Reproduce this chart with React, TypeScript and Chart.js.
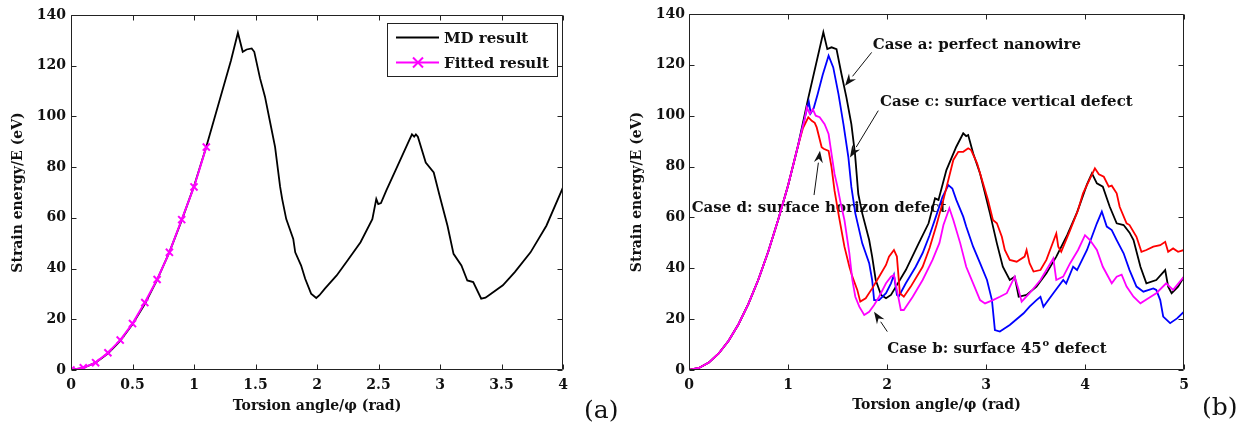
import React, { useEffect, useRef } from "react";
import { Chart, registerables } from "chart.js";

Chart.register(...registerables);

type Pt = [number, number];

const SERIF = '"DejaVu Serif", "Liberation Serif", serif';
const INK = "#111111";

// ---------------- Panel (a) data ----------------
const mdResult: Pt[] = [
  [0, 0], [0.1, 0.8], [0.2, 2.9], [0.3, 6.5], [0.4, 11.5], [0.5, 18], [0.6, 26], [0.7, 35.5],
  [0.8, 46.5], [0.9, 59], [1.0, 72.5], [1.1, 88], [1.2, 105], [1.3, 122], [1.357, 133],
  [1.396, 125.5], [1.428, 126.4], [1.469, 126.8], [1.49, 125.5], [1.537, 115], [1.577, 107.8],
  [1.618, 97.9], [1.659, 88], [1.7, 72.3], [1.717, 67.4], [1.75, 59.5], [1.807, 51.7],
  [1.823, 46.4], [1.871, 41.2], [1.904, 36], [1.952, 30.1], [1.994, 28.4], [2.02, 29.5],
  [2.064, 32.1], [2.16, 37.3], [2.257, 43.8], [2.354, 50.4], [2.45, 59.5], [2.482, 67.4],
  [2.498, 65.4], [2.52, 65.8], [2.563, 70.7], [2.643, 79.2], [2.74, 89.6], [2.772, 92.9],
  [2.79, 92], [2.804, 92.9], [2.82, 92], [2.884, 81.8], [2.949, 77.9], [2.997, 68.7],
  [3.061, 56.9], [3.11, 45.8], [3.174, 41.2], [3.222, 35.3], [3.27, 34.7], [3.335, 28.1],
  [3.37, 28.5], [3.415, 30.1], [3.511, 33.4], [3.608, 38.6], [3.736, 46.4], [3.865, 56.9], [4.0, 72],
];

const fittedResult: Pt[] = [
  [0, 0], [0.1, 0.9], [0.2, 2.9], [0.3, 6.8], [0.4, 11.8], [0.5, 18.3], [0.6, 26.6],
  [0.7, 35.7], [0.8, 46.4], [0.9, 59.3], [1.0, 72.2], [1.1, 87.9],
];

const legendLabelsA = ["MD result", "Fitted result"];
const xTickValuesA = [0, 0.5, 1, 1.5, 2, 2.5, 3, 3.5, 4];
const yTickValues = [0, 20, 40, 60, 80, 100, 120, 140];

// ---------------- Panel (b) data ----------------
const commonRise: Pt[] = [
  [0, 0], [0.1, 0.8], [0.2, 2.9], [0.3, 6.5], [0.4, 11.5], [0.5, 18], [0.6, 26], [0.7, 35.5],
  [0.8, 46.5], [0.9, 59], [1.0, 72.5], [1.1, 88],
];

const caseA: Pt[] = [
  [1.205, 107], [1.357, 132.8], [1.397, 126.2], [1.44, 126.9], [1.49, 126.2], [1.54, 116.4],
  [1.59, 107.2], [1.64, 96.7], [1.677, 84.9], [1.71, 69.2], [1.75, 61.6], [1.82, 51.1],
  [1.85, 44.6], [1.886, 35.4], [1.94, 29.5], [1.99, 28.2], [2.04, 29.5], [2.09, 32.8],
  [2.19, 39.3], [2.32, 49.8], [2.42, 57.7], [2.485, 67.5], [2.52, 66.9], [2.6, 78.6],
  [2.7, 87.8], [2.77, 93.1], [2.8, 92], [2.82, 92.4], [2.87, 85.2], [2.94, 77.3], [2.99, 69.5],
  [3.04, 61.6], [3.11, 49.8], [3.17, 40.6], [3.24, 35.4], [3.29, 36.7], [3.33, 28.8],
  [3.41, 29.5], [3.51, 32.8], [3.61, 38], [3.71, 44.6], [3.82, 53], [3.92, 62], [4.02, 73],
  [4.07, 77.3], [4.12, 73.4], [4.18, 72.1], [4.25, 64.2], [4.32, 57.7], [4.39, 57], [4.45, 54],
  [4.49, 51.1], [4.56, 40.6], [4.62, 34.1], [4.72, 35.4], [4.81, 39.3], [4.84, 32.8],
  [4.875, 30.2], [4.94, 32.8], [5.0, 36.7],
];

const caseB: Pt[] = [
  [1.17, 99], [1.19, 103.3], [1.22, 100.7], [1.25, 102.6], [1.28, 100], [1.32, 99.4],
  [1.37, 96.7], [1.41, 92.8], [1.44, 84.9], [1.47, 77.1], [1.5, 72], [1.53, 66], [1.57, 59],
  [1.62, 45.9], [1.65, 35.4], [1.68, 28.8], [1.72, 24.9], [1.77, 21.6], [1.82, 22.9],
  [1.87, 25.6], [1.92, 28.8], [1.99, 34.1], [2.04, 36.7], [2.07, 37.4], [2.1, 31.5],
  [2.14, 23.6], [2.17, 23.6], [2.26, 28.8], [2.36, 35.4], [2.46, 43.3], [2.53, 50], [2.57, 57],
  [2.63, 63.6], [2.67, 59], [2.74, 49.8], [2.8, 40.6], [2.87, 34.1], [2.94, 27.5], [2.99, 26.2],
  [3.07, 27.5], [3.14, 28.8], [3.21, 30.2], [3.29, 36.7], [3.33, 31.5], [3.36, 26.9],
  [3.44, 30.2], [3.55, 35.4], [3.63, 40.6], [3.68, 43.9], [3.71, 35.4], [3.78, 36.7],
  [3.85, 42], [3.93, 47.2], [4.0, 53], [4.05, 51.1], [4.12, 47.2], [4.18, 40.6], [4.27, 34.1],
  [4.32, 36.7], [4.37, 37.5], [4.42, 32.8], [4.49, 28.8], [4.56, 26.2], [4.64, 28.2],
  [4.72, 30.2], [4.82, 34.1], [4.89, 31.5], [5.0, 36.7],
];

const caseC: Pt[] = [
  [1.2, 104], [1.21, 105.5], [1.23, 101], [1.26, 103], [1.3, 108.5], [1.35, 116], [1.41, 123.6],
  [1.457, 119], [1.51, 108.5], [1.56, 96.7], [1.61, 83.6], [1.64, 72], [1.68, 61.6],
  [1.75, 49.8], [1.82, 42], [1.85, 35.4], [1.87, 27.5], [1.92, 27.5], [1.99, 30.2],
  [2.04, 34.1], [2.07, 37.4], [2.1, 29.5], [2.12, 29], [2.19, 34.1], [2.29, 40.6], [2.36, 46],
  [2.43, 53], [2.5, 61], [2.56, 68], [2.62, 72.7], [2.66, 71.4], [2.7, 66.9], [2.77, 60.3],
  [2.8, 56.4], [2.87, 48.5], [2.94, 42], [3.01, 35.4], [3.06, 27.5], [3.09, 15.7], [3.14, 15.1],
  [3.24, 17.7], [3.38, 22.3], [3.44, 24.9], [3.51, 27.5], [3.55, 28.8], [3.58, 24.9],
  [3.68, 30.2], [3.78, 35.4], [3.81, 34], [3.88, 40.6], [3.92, 39.3], [4.02, 47.2],
  [4.12, 57.7], [4.17, 62.3], [4.22, 56.4], [4.27, 55], [4.32, 51.1], [4.39, 45.9],
  [4.45, 39.3], [4.52, 32.8], [4.59, 30.8], [4.69, 32.1], [4.72, 31.5], [4.76, 27.5],
  [4.79, 21], [4.86, 18.4], [4.93, 20.3], [5.0, 22.9],
];

const caseD: Pt[] = [
  [1.15, 95], [1.205, 99.4], [1.24, 98], [1.27, 97.2], [1.29, 95.4], [1.34, 87.6], [1.36, 87],
  [1.41, 86.2], [1.44, 79.7], [1.47, 70.5], [1.515, 60.3], [1.57, 48.5], [1.62, 40.6],
  [1.65, 36.7], [1.7, 31.5], [1.73, 26.9], [1.785, 28.2], [1.85, 32.1], [1.92, 36.7],
  [1.99, 41.3], [2.02, 44.6], [2.07, 47.2], [2.1, 44.6], [2.13, 30.2], [2.17, 28.8],
  [2.24, 32.8], [2.36, 40.6], [2.43, 48], [2.5, 57], [2.57, 67], [2.67, 82.6], [2.72, 85.8],
  [2.77, 85.8], [2.82, 87.2], [2.85, 86.5], [2.91, 81.3], [2.97, 73.4], [3.02, 66.9], [3.07, 59],
  [3.11, 57.7], [3.16, 52.4], [3.19, 47.2], [3.24, 43.3], [3.31, 42.6], [3.39, 44.6],
  [3.41, 47.2], [3.44, 42], [3.48, 38.7], [3.55, 39.3], [3.61, 43.3], [3.71, 53.7],
  [3.73, 48.5], [3.76, 46.5], [3.85, 55], [3.93, 62.9], [3.98, 69.5], [4.1, 79.3], [4.14, 77],
  [4.19, 76], [4.24, 72.1], [4.27, 72.5], [4.32, 69.5], [4.35, 64.2], [4.42, 57.7], [4.45, 57],
  [4.52, 52.4], [4.57, 46.5], [4.62, 47.2], [4.69, 48.5], [4.76, 49.1], [4.81, 50.4],
  [4.84, 46.5], [4.89, 47.8], [4.94, 46.5], [5.0, 47.2],
];

const xTickValuesB = [0, 1, 2, 3, 4, 5];

// annotation anchors in data units: text baseline start, arrow tail, arrow tip
const caseLabels = [
  "Case a: perfect nanowire",
  "Case c: surface vertical defect",
  "Case d: surface horizon defect",
  "Case b: surface 45",
];
const labelAnchors: Pt[] = [[1.857, 126.2], [1.929, 103.9], [0.027, 62.2], [2.003, 6.6]];
const arrowTails: Pt[] = [[1.845, 124.9], [1.912, 102], [1.263, 68.8], [2.003, 15.1]];
const arrowTips: Pt[] = [[1.576, 111.8], [1.626, 83.6], [1.323, 86.2], [1.869, 22.9]];

// ---------------- helpers ----------------
const toXY = (pts: Pt[]) => pts.map(([x, y]) => ({ x, y }));
const tickFont = { family: SERIF, size: 14, weight: "bold" as const };
const titleFont = { family: SERIF, size: 14, weight: "bold" as const };

const framePlugin = {
  id: "frame",
  afterDatasetsDraw(chart: any) {
    const { ctx, chartArea: a, scales } = chart;
    const x = scales.x;
    const y = scales.y;
    const L = Math.round(a.left) + 0.5;
    const R = Math.round(a.right) - 0.5;
    const T = Math.round(a.top) + 0.5;
    const B = Math.round(a.bottom) - 0.5;
    ctx.save();
    ctx.strokeStyle = "#222222";
    ctx.lineWidth = 1;
    ctx.beginPath();
    for (const t of x.ticks) {
      const px = Math.round(x.getPixelForValue(t.value)) + 0.5;
      ctx.moveTo(px, B);
      ctx.lineTo(px, B - 5);
      ctx.moveTo(px, T);
      ctx.lineTo(px, T + 5);
    }
    for (const t of y.ticks) {
      const py = Math.round(y.getPixelForValue(t.value)) + 0.5;
      ctx.moveTo(L, py);
      ctx.lineTo(L + 5, py);
      ctx.moveTo(R, py);
      ctx.lineTo(R - 5, py);
    }
    ctx.rect(L, T, R - L, B - T);
    ctx.stroke();
    ctx.restore();
  },
};

const makePanelLabel = (text: string, px: number, baseline: number) => ({
  id: "panelLabel",
  afterDraw(chart: any) {
    const { ctx } = chart;
    ctx.save();
    ctx.fillStyle = INK;
    ctx.font = `25px ${SERIF}`;
    ctx.textAlign = "left";
    ctx.textBaseline = "alphabetic";
    ctx.fillText(text, px, baseline);
    ctx.restore();
  },
});

const legendPlugin = {
  id: "boxLegend",
  afterDatasetsDraw(chart: any) {
    const { ctx } = chart;
    const ds = chart.data.datasets;
    // order in legend: MD result, Fitted result
    const entries = [ds[1], ds[0]];
    ctx.save();
    ctx.fillStyle = "#ffffff";
    ctx.fillRect(387, 23, 170, 53);
    ctx.strokeStyle = "#222222";
    ctx.lineWidth = 1;
    ctx.strokeRect(387.5, 23.5, 170, 53);
    ctx.font = `bold 15px ${SERIF}`;
    ctx.textAlign = "left";
    ctx.textBaseline = "alphabetic";
    entries.forEach((d: any, i: number) => {
      const cy = 37.5 + i * 25;
      ctx.strokeStyle = d.borderColor;
      ctx.lineWidth = 2;
      ctx.beginPath();
      ctx.moveTo(396, cy);
      ctx.lineTo(439, cy);
      ctx.stroke();
      if (d.pointRadius > 0) {
        const r = 5;
        ctx.beginPath();
        ctx.moveTo(418 - r, cy - r);
        ctx.lineTo(418 + r, cy + r);
        ctx.moveTo(418 - r, cy + r);
        ctx.lineTo(418 + r, cy - r);
        ctx.stroke();
      }
      ctx.fillStyle = INK;
      ctx.fillText(legendLabelsA[i], 444, cy + 5.5);
    });
    ctx.restore();
  },
};

const annotationPlugin = {
  id: "caseNotes",
  beforeDatasetsDraw(chart: any) {
    const { ctx, scales } = chart;
    ctx.save();
    ctx.fillStyle = INK;
    ctx.font = `bold 15px ${SERIF}`;
    ctx.textAlign = "left";
    ctx.textBaseline = "alphabetic";
    caseLabels.forEach((t, i) => {
      const px = scales.x.getPixelForValue(labelAnchors[i][0]);
      const py = scales.y.getPixelForValue(labelAnchors[i][1]);
      ctx.fillText(t, px, py);
      if (i === 3) {
        const w = ctx.measureText(t).width;
        ctx.font = `bold 10px ${SERIF}`;
        ctx.fillText("o", px + w + 1, py - 7);
        const w2 = ctx.measureText("o").width;
        ctx.font = `bold 15px ${SERIF}`;
        ctx.fillText(" defect", px + w + 1 + w2, py);
      }
    });
    ctx.restore();
  },
  afterDatasetsDraw(chart: any) {
    const { ctx, scales } = chart;
    ctx.save();
    ctx.strokeStyle = "#111111";
    ctx.fillStyle = "#111111";
    ctx.lineWidth = 1;
    arrowTails.forEach((tail, i) => {
      const x0 = scales.x.getPixelForValue(tail[0]);
      const y0 = scales.y.getPixelForValue(tail[1]);
      const x1 = scales.x.getPixelForValue(arrowTips[i][0]);
      const y1 = scales.y.getPixelForValue(arrowTips[i][1]);
      const ang = Math.atan2(y1 - y0, x1 - x0);
      const hl = 12;
      const hw = 4.5;
      const bx = x1 - hl * Math.cos(ang);
      const by = y1 - hl * Math.sin(ang);
      ctx.beginPath();
      ctx.moveTo(x0, y0);
      ctx.lineTo(bx, by);
      ctx.stroke();
      ctx.beginPath();
      ctx.moveTo(x1, y1);
      ctx.lineTo(bx + hw * Math.sin(ang), by - hw * Math.cos(ang));
      ctx.lineTo(x1 - 8 * Math.cos(ang), y1 - 8 * Math.sin(ang));
      ctx.lineTo(bx - hw * Math.sin(ang), by + hw * Math.cos(ang));
      ctx.closePath();
      ctx.fill();
    });
    ctx.restore();
  },
};

function buildScales(
  xMax: number,
  xTicks: number[],
  yWidth: number,
  xTitlePad: number,
  yTitlePad: number,
  yTickPad: number
) {
  return {
    x: {
      type: "linear" as const,
      min: 0,
      max: xMax,
      afterBuildTicks: (s: any) => {
        s.ticks = xTicks.map((v) => ({ value: v }));
      },
      ticks: {
        font: tickFont,
        color: INK,
        padding: 7,
        maxRotation: 0,
        autoSkip: false,
        callback: (v: any) => String(v),
      },
      grid: { display: false, drawTicks: false },
      border: { display: false },
      title: {
        display: true,
        text: "Torsion angle/φ (rad)",
        font: titleFont,
        color: INK,
        padding: { top: 0, bottom: xTitlePad },
      },
      afterFit: (s: any) => {
        s.height = 55;
      },
    },
    y: {
      type: "linear" as const,
      min: 0,
      max: 140,
      afterBuildTicks: (s: any) => {
        s.ticks = yTickValues.map((v) => ({ value: v }));
      },
      ticks: {
        font: tickFont,
        color: INK,
        padding: yTickPad,
        autoSkip: false,
        callback: (v: any) => String(v),
      },
      grid: { display: false, drawTicks: false },
      border: { display: false },
      title: {
        display: true,
        text: "Strain energy/E (eV)",
        font: titleFont,
        color: INK,
        padding: { top: yTitlePad, bottom: 0 },
      },
      afterFit: (s: any) => {
        s.width = yWidth;
      },
    },
  };
}

const commonOptions = {
  responsive: false,
  maintainAspectRatio: false,
  devicePixelRatio: 1,
  animation: false as const,
  events: [] as any[],
};

export default function App() {
  const refA = useRef<HTMLCanvasElement>(null);
  const refB = useRef<HTMLCanvasElement>(null);

  useEffect(() => {
    const chartA = new Chart(refA.current as HTMLCanvasElement, {
      type: "line",
      data: {
        datasets: [
          {
            label: legendLabelsA[1],
            data: toXY(fittedResult),
            borderColor: "#ff00ff",
            backgroundColor: "#ff00ff",
            borderWidth: 2,
            pointStyle: "crossRot",
            pointRadius: 5,
            pointBorderWidth: 2,
            pointBorderColor: "#ff00ff",
            tension: 0,
          },
          {
            label: legendLabelsA[0],
            data: toXY(mdResult),
            borderColor: "#000000",
            borderWidth: 1.8,
            pointRadius: 0,
            tension: 0,
          },
        ],
      },
      options: {
        ...commonOptions,
        layout: { padding: { left: 0, right: 57, top: 15, bottom: 0 } },
        plugins: { legend: { display: false }, tooltip: { enabled: false } },
        scales: buildScales(4, xTickValuesA, 71, 10, 10, 5) as any,
      },
      plugins: [framePlugin, legendPlugin, makePanelLabel("(a)", 584, 418)],
    });

    const chartB = new Chart(refB.current as HTMLCanvasElement, {
      type: "line",
      data: {
        datasets: [
          {
            label: "Case b: surface 45° defect",
            data: toXY([...commonRise, ...caseB]),
            borderColor: "#ff00ff",
            borderWidth: 1.8,
            pointRadius: 0,
            tension: 0,
          },
          {
            label: "Case d: surface horizon defect",
            data: toXY([...commonRise, ...caseD]),
            borderColor: "#ff0000",
            borderWidth: 1.8,
            pointRadius: 0,
            tension: 0,
          },
          {
            label: "Case c: surface vertical defect",
            data: toXY([...commonRise, ...caseC]),
            borderColor: "#0000ff",
            borderWidth: 1.8,
            pointRadius: 0,
            tension: 0,
          },
          {
            label: "Case a: perfect nanowire",
            data: toXY([...commonRise, ...caseA]),
            borderColor: "#000000",
            borderWidth: 1.8,
            pointRadius: 0,
            tension: 0,
          },
        ],
      },
      options: {
        ...commonOptions,
        layout: { padding: { left: 0, right: 60, top: 14, bottom: 0 } },
        plugins: { legend: { display: false }, tooltip: { enabled: false } },
        scales: buildScales(5, xTickValuesB, 69, 11, 9, 4) as any,
      },
      plugins: [framePlugin, annotationPlugin, makePanelLabel("(b)", 582, 415)],
    });

    return () => {
      chartA.destroy();
      chartB.destroy();
    };
  }, []);

  return (
    <div
      style={{
        position: "absolute",
        left: 0,
        top: 0,
        width: 1244,
        height: 425,
        background: "#ffffff",
        overflow: "hidden",
      }}
    >
      <canvas
        ref={refA}
        width={620}
        height={425}
        style={{ position: "absolute", left: 0, top: 0, width: 620, height: 425 }}
      />
      <canvas
        ref={refB}
        width={624}
        height={425}
        style={{ position: "absolute", left: 620, top: 0, width: 624, height: 425 }}
      />
    </div>
  );
}
